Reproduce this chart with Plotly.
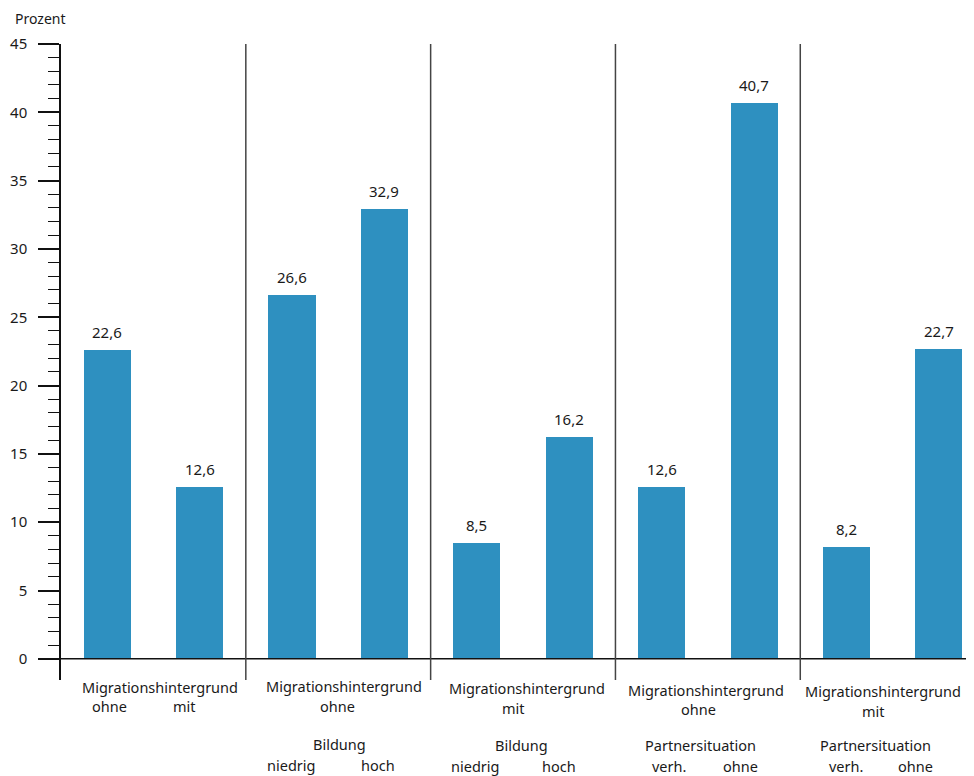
import plotly.graph_objects as go

# ---- data ----
positions = [0.5, 1.5, 2.5, 3.5, 4.5, 5.5, 6.5, 7.5, 8.5, 9.5]
values = [22.6, 12.6, 26.6, 32.9, 8.5, 16.2, 12.6, 40.7, 8.2, 22.7]
group_bounds = [2, 4, 6, 8]

# label rows: (text, x position, pixel shift below axis baseline)
row_migration = ["Migrationshintergrund"] * 5
row_migration_x = [1.07, 3.06, 5.04, 6.98, 8.89]
row_migration_dy = [7, 6, 8, 10, 11]

row_second = ["ohne", "mit", "ohne", "mit", "ohne", "mit"]
row_second_x = [0.53, 1.34, 2.99, 4.90, 6.90, 8.79]
row_second_dy = [26, 26, 26, 28, 29, 31]

row_third = ["Bildung", "Bildung", "Partnersituation", "Partnersituation"]
row_third_x = [3.01, 4.98, 6.92, 8.81]
row_third_dy = [64, 65, 65, 65]

row_fourth = ["niedrig", "hoch", "niedrig", "hoch", "verh.", "ohne", "verh.", "ohne"]
row_fourth_x = [2.49, 3.43, 4.48, 5.39, 6.58, 7.35, 8.50, 9.25]
row_fourth_dy = [85, 85, 86, 86, 86, 86, 86, 86]

FONT = "Noto Sans"
TXT = "#1a1a1a"
BAR = "#2E90C0"

fig = go.Figure()
fig.add_trace(go.Bar(
    x=positions, y=values, width=0.51,
    marker=dict(color=BAR, line=dict(width=0)),
    showlegend=False, hoverinfo="skip",
))

shapes = []
# baseline
shapes.append(dict(type="line", xref="paper", yref="y", x0=0, x1=1, y0=0, y1=0,
                   line=dict(color="#111", width=1.5)))
for b in group_bounds:
    shapes.append(dict(type="line", xref="x", yref="y", x0=b, x1=b, y0=-1.55, y1=45,
                       line=dict(color="#444", width=1.5)))

annotations = []
# value labels
for x, v in zip(positions, values):
    annotations.append(dict(text=f"{v:.1f}".replace(".", ","), x=x, y=v, xref="x", yref="y",
                            xanchor="center", yanchor="bottom", yshift=6, showarrow=False,
                            font=dict(family=FONT, size=15, color=TXT)))

def add_row(texts, xs, dys):
    for t, x, dy in zip(texts, xs, dys):
        annotations.append(dict(text=t, x=x, xref="x", y=0, yref="y", yanchor="middle",
                                xanchor="center", yshift=-(dy + 21), showarrow=False,
                                borderpad=0,
                                font=dict(family=FONT, size=14.5, color=TXT)))
add_row(row_migration, row_migration_x, row_migration_dy)
add_row(row_second, row_second_x, row_second_dy)
add_row(row_third, row_third_x, row_third_dy)
add_row(row_fourth, row_fourth_x, row_fourth_dy)

annotations.append(dict(text="Prozent", xref="paper", yref="paper", x=0, y=1,
                        xanchor="left", yanchor="middle", xshift=-48, yshift=26,
                        showarrow=False, font=dict(family=FONT, size=14, color=TXT)))

fig.update_layout(
    width=966, height=768,
    margin=dict(l=53, r=0, t=36, b=96),
    plot_bgcolor="white", paper_bgcolor="white",
    separators=",.",
    bargap=0,
    xaxis=dict(range=[0, 9.88], showline=False, showgrid=False, zeroline=False,
               showticklabels=False, ticks=""),
    yaxis=dict(range=[-1.55, 45], showline=True, linecolor="#111", linewidth=1.5,
               showgrid=False, zeroline=False,
               tickmode="array", tickvals=[0, 5, 10, 15, 20, 25, 30, 35, 40, 45],
               ticks="outside", ticklen=21, tickwidth=1.5, tickcolor="#111",
               ticklabelstandoff=8,
               tickfont=dict(family=FONT, size=15, color=TXT),
               minor=dict(tickmode="array",
                          tickvals=[v for v in range(1, 45) if v % 5 != 0],
                          ticks="outside", ticklen=11, tickwidth=1.2, tickcolor="#111")),
    shapes=shapes,
    annotations=annotations,
)

fig.write_html("out.html")
